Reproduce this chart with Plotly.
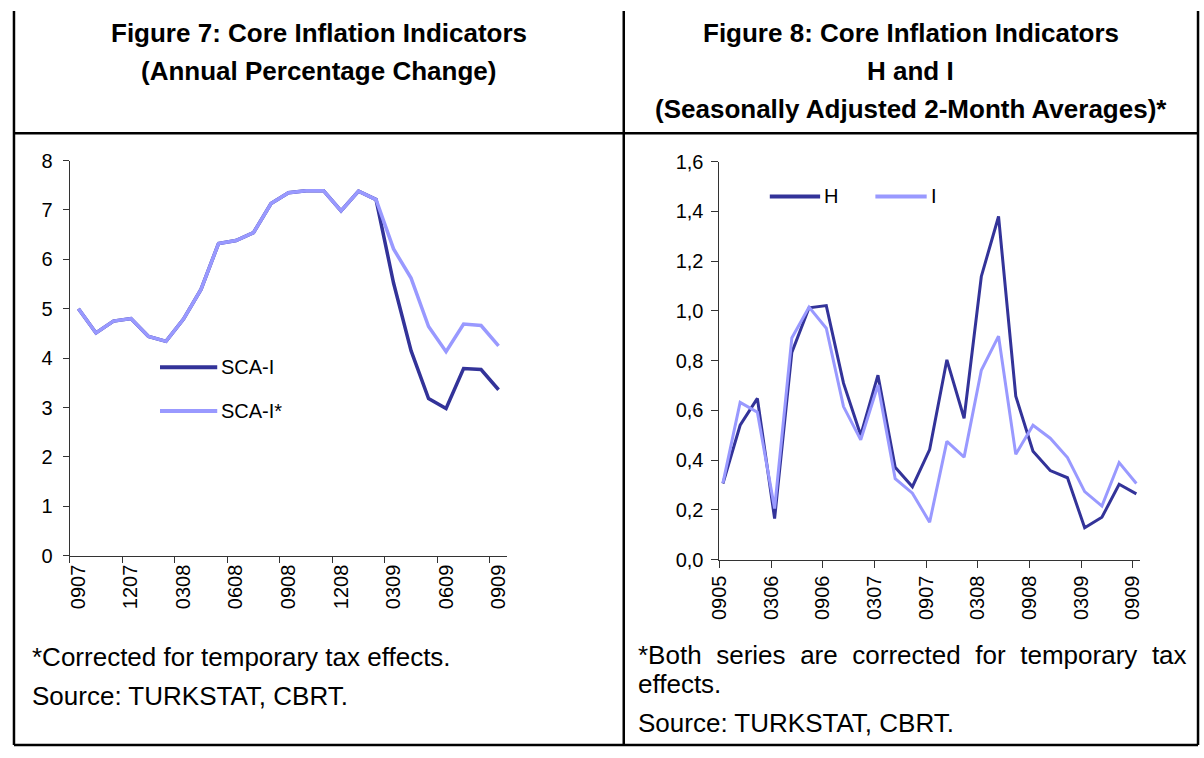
import plotly.graph_objects as go

# Figure 7: core inflation indicators, annual % change, monthly 09/2007 - 09/2009
months_fig7 = ["0907", "1007", "1107", "1207", "0108", "0208", "0308", "0408", "0508",
               "0608", "0708", "0808", "0908", "1008", "1108", "1208", "0109", "0209",
               "0309", "0409", "0509", "0609", "0709", "0809", "0909"]
sca_i = [5.00, 4.51, 4.75, 4.80, 4.44, 4.34, 4.79, 5.39, 6.32, 6.38, 6.54, 7.13, 7.35,
         7.39, 7.39, 6.98, 7.38, 7.21, 5.52, 4.15, 3.18, 2.98, 3.79, 3.77, 3.36]
sca_i_star = [5.00, 4.51, 4.75, 4.80, 4.44, 4.34, 4.79, 5.39, 6.32, 6.38, 6.54, 7.13, 7.35,
              7.39, 7.39, 6.98, 7.38, 7.21, 6.21, 5.62, 4.64, 4.13, 4.69, 4.66, 4.25]

# Figure 8: H and I, seasonally adjusted 2-month averages, 09/2005 - 09/2009
periods_fig8 = ["0905", "1105", "0106", "0306", "0506", "0706", "0906", "1106", "0107",
                "0307", "0507", "0707", "0907", "1107", "0108", "0308", "0508", "0708",
                "0908", "1108", "0109", "0309", "0509", "0709", "0909"]
h_vals = [0.306, 0.54, 0.648, 0.165, 0.833, 1.012, 1.021, 0.709, 0.50, 0.741, 0.371,
          0.293, 0.442, 0.803, 0.568, 1.138, 1.379, 0.657, 0.436, 0.358, 0.329, 0.128,
          0.170, 0.303, 0.264]
i_vals = [0.308, 0.632, 0.592, 0.205, 0.891, 1.015, 0.93, 0.615, 0.481, 0.702, 0.325,
          0.267, 0.15, 0.475, 0.412, 0.761, 0.898, 0.423, 0.54, 0.488, 0.41, 0.273,
          0.215, 0.39, 0.306]

DARK = "#333399"
LIGHT = "#9999FF"
AXIS = "#333333"
FONT = "Liberation Sans, Arial, sans-serif"
W, H = 1204, 758


def px(x):
    return x / W


def py(y):
    return 1 - y / H


fig = go.Figure()

x7 = list(range(len(months_fig7)))
x8 = list(range(len(periods_fig8)))

fig.add_trace(go.Scatter(x=x7, y=sca_i, mode="lines", name="SCA-I", text=months_fig7,
                         line=dict(color=DARK, width=3.5), xaxis="x", yaxis="y"))
fig.add_trace(go.Scatter(x=x7, y=sca_i_star, mode="lines", name="SCA-I*", text=months_fig7,
                         line=dict(color=LIGHT, width=3.5), xaxis="x", yaxis="y"))
fig.add_trace(go.Scatter(x=x8, y=h_vals, mode="lines", name="H", text=periods_fig8,
                         line=dict(color=DARK, width=3), xaxis="x2", yaxis="y2"))
fig.add_trace(go.Scatter(x=x8, y=i_vals, mode="lines", name="I", text=periods_fig8,
                         line=dict(color=LIGHT, width=3), xaxis="x2", yaxis="y2"))

lab7 = list(range(0, len(months_fig7), 3))
lab8 = list(range(0, len(periods_fig8), 3))

tickfont = dict(family=FONT, size=20, color="black")

fig.update_layout(
    width=W, height=H, autosize=False,
    margin=dict(l=0, r=0, t=0, b=0),
    paper_bgcolor="white", plot_bgcolor="white",
    showlegend=False,
    separators=",.",
    font=dict(family=FONT, color="black"),
    xaxis=dict(
        domain=[px(58.5), px(502)], range=[-0.5, len(months_fig7) - 0.5],
        tickmode="array", tickvals=lab7, ticktext=[months_fig7[i] for i in lab7],
        tickangle=-90, ticks="", showgrid=False, zeroline=False,
        showline=True, linecolor=AXIS, linewidth=1, tickfont=tickfont,
        minor=dict(tickmode="array", tickvals=[i - 0.5 for i in lab7],
                   ticks="outside", ticklen=6, tickcolor=AXIS, showgrid=False),
        anchor="y",
    ),
    yaxis=dict(
        domain=[py(561), py(154)], range=[0, 8], dtick=1,
        ticks="outside", ticklen=6, tickcolor=AXIS, showgrid=False, zeroline=False,
        showline=True, linecolor=AXIS, linewidth=1, tickfont=tickfont,
        ticklabelstandoff=6, anchor="x",
    ),
    xaxis2=dict(
        domain=[px(717), px(1143)], range=[-0.2, len(periods_fig8) - 0.8],
        tickmode="array", tickvals=[i - 0.2 for i in lab8],
        ticktext=[periods_fig8[i] for i in lab8],
        tickangle=-90, ticks="outside", ticklen=7, tickcolor=AXIS,
        showgrid=False, zeroline=False,
        showline=True, linecolor=AXIS, linewidth=1, tickfont=tickfont,
        anchor="y2",
    ),
    yaxis2=dict(
        domain=[py(565), py(155)], range=[0, 1.6], dtick=0.2, tickformat=".1f",
        ticks="outside", ticklen=7, tickcolor=AXIS, showgrid=False, zeroline=False,
        showline=True, linecolor=AXIS, linewidth=1, tickfont=tickfont,
        ticklabelstandoff=4, anchor="x2",
    ),
)

# table frame
shapes = []
frame = [
    (2, 0, 2, 756), (1202, 0, 1202, 756), (2, 756, 1202, 756),
    (620, 0, 620, 756), (2, 126, 1202, 126),
]
for x0, y0, x1, y1 in frame:
    shapes.append(dict(type="line", xref="paper", yref="paper",
                       x0=px(x0), y0=py(y0), x1=px(x1), y1=py(y1),
                       line=dict(color="black", width=2.5)))

# legend keys
legend_keys = [
    (150, 208, 367, DARK, "SCA-I"),
    (150, 208, 412, LIGHT, "SCA-I*"),
    (768, 819, 191, DARK, "H"),
    (875, 927, 191, LIGHT, "I"),
]
annotations = []
for x0, x1, y, col, label in legend_keys:
    shapes.append(dict(type="line", xref="paper", yref="paper",
                       x0=px(x0), y0=py(y), x1=px(x1), y1=py(y),
                       line=dict(color=col, width=4)))
    annotations.append(dict(text=label, xref="paper", yref="paper", x=px(x1 + 2), y=py(y),
                            xanchor="left", yanchor="middle", showarrow=False,
                            font=dict(family=FONT, size=20, color="black")))

# titles
titles = [
    (311, 23, "Figure 7: Core Inflation Indicators"),
    (311, 62, "(Annual Percentage Change)"),
    (911, 23, "Figure 8: Core Inflation Indicators"),
    (911, 62, "H and I"),
    (911, 101, "(Seasonally Adjusted 2-Month Averages)*"),
]
for x, y, t in titles:
    annotations.append(dict(text="<b>" + t + "</b>", xref="paper", yref="paper",
                            x=px(x), y=py(y), xanchor="center", yanchor="middle",
                            showarrow=False, font=dict(family=FONT, size=26, color="black")))

# notes (first line of the right note is justified in the original)
gap = " \u2009\u200a"
notes = [
    (18, 665, "*Corrected for temporary tax effects."),
    (18, 705, "Source: TURKSTAT, CBRT."),
    (632, 663, gap.join("*Both series are corrected for temporary tax".split(" "))),
    (632, 693, "effects."),
    (632, 733, "Source: TURKSTAT, CBRT."),
]
for x, y, t in notes:
    annotations.append(dict(text=t, xref="paper", yref="paper", x=px(x), y=py(y),
                            xanchor="left", yanchor="middle", showarrow=False,
                            font=dict(family=FONT, size=26, color="black")))

fig.update_layout(shapes=shapes, annotations=annotations)

# drop the default page margin so the 1204x758 figure fills the window exactly
fig.write_html("out.html", config={"displayModeBar": False},
               post_script="document.documentElement.style.overflow='hidden';"
                           "document.body.style.margin='0';"
                           "document.body.style.overflow='hidden';")
